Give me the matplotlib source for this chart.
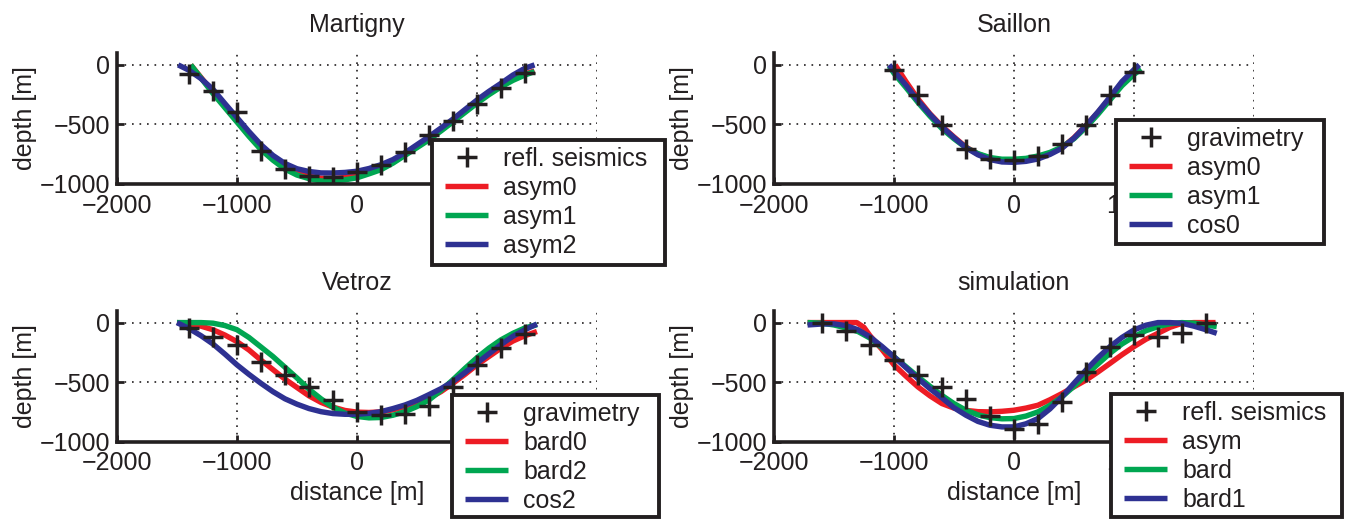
import numpy as np
import matplotlib
matplotlib.use("Agg")
import matplotlib.pyplot as plt
from matplotlib.patches import Rectangle

plt.rcParams['font.family'] = ['Liberation Sans', 'DejaVu Sans']
plt.rcParams['axes.unicode_minus'] = True

RED = '#ED1C24'
GREEN = '#00A651'
BLUE = '#2E3192'
TXT = '#231F20'
W, H = 1346, 519

# ---- Martigny ----
mart_pts_x = [-1400, -1200, -1000, -800, -600, -400, -200, 0, 200, 400, 600, 800, 1000, 1200, 1400]
mart_pts_y = [-80, -220, -392, -720, -870, -935, -945, -898, -842, -733, -590, -469, -330, -196, -72]

mart_asym0_x = [-1385, -1300, -1200, -1100, -1000, -900, -800, -700, -600, -500, -400, -300, -200, -100, 0,
                100, 200, 300, 400, 500, 600, 700, 800, 900, 1000, 1100, 1200, 1300, 1400, 1480]
mart_asym0_y = [0, -105, -230, -350, -468, -585, -695, -785, -855, -905, -935, -952, -955, -945, -928,
                -900, -862, -812, -752, -688, -620, -545, -468, -390, -312, -240, -175, -120, -78, -50]

mart_asym1_x = [-1385, -1300, -1200, -1100, -1000, -900, -800, -700, -600, -500, -400, -300, -200, -100, 0,
                100, 200, 300, 400, 500, 600, 700, 800, 900, 1000, 1100, 1200, 1300, 1400, 1480]
mart_asym1_y = [0, -110, -240, -360, -480, -600, -712, -800, -875, -925, -955, -975, -975, -965, -948,
                -915, -880, -825, -760, -695, -630, -555, -478, -400, -322, -250, -185, -130, -85, -56]

mart_asym2_x = [-1490, -1400, -1300, -1200, -1100, -1000, -900, -800, -700, -600, -500, -400, -300, -200, -100, 0,
                100, 200, 300, 400, 500, 600, 700, 800, 900, 1000, 1100, 1200, 1300, 1400, 1480]
mart_asym2_y = [0, -45, -115, -205, -325, -442, -560, -670, -760, -828, -872, -895, -907, -908, -903, -893,
                -870, -838, -795, -738, -670, -602, -530, -455, -375, -295, -222, -155, -85, -28, 0]

# ---- Saillon ----
sail_pts_x = [-1000, -800, -600, -400, -200, 0, 200, 400, 600, 800, 1000]
sail_pts_y = [-47, -256, -506, -706, -792, -797, -761, -667, -506, -250, -61]

sail_asym0_x = [-990, -900, -800, -700, -600, -500, -400, -300, -200, -100, 0,
                100, 200, 300, 400, 500, 600, 700, 800, 900, 1000, 1045]
sail_asym0_y = [0, -140, -285, -410, -515, -605, -690, -748, -785, -803, -808,
                -800, -780, -745, -695, -612, -510, -400, -280, -150, -55, -20]

sail_asym1_x = [-1040, -1000, -900, -800, -700, -600, -500, -400, -300, -200, -100, 0,
                100, 200, 300, 400, 500, 600, 700, 800, 900, 1000, 1060]
sail_asym1_y = [-10, -70, -190, -315, -430, -535, -620, -695, -745, -778, -792, -792,
                -785, -765, -735, -690, -620, -525, -415, -295, -175, -80, -35]

sail_cos0_x = [-1040, -1000, -900, -800, -700, -600, -500, -400, -300, -200, -100, 0,
               100, 200, 300, 400, 500, 600, 700, 800, 900, 1000, 1045]
sail_cos0_y = [0, -50, -170, -300, -415, -520, -610, -695, -755, -795, -815, -818,
               -810, -790, -752, -700, -615, -510, -395, -270, -140, -40, 0]

# ---- Vetroz ----
vetr_pts_x = [-1400, -1200, -1000, -800, -600, -400, -200, 0, 200, 400, 600, 800, 1000, 1200, 1400]
vetr_pts_y = [-48, -118, -188, -329, -441, -539, -646, -750, -778, -764, -702, -539, -357, -216, -96]

vetr_x = [-1500, -1400, -1300, -1200, -1100, -1000, -900, -800, -700, -600, -500, -400, -300, -200, -100, 0,
          100, 200, 300, 400, 500, 600, 700, 800, 900, 1000, 1100, 1200, 1300, 1400, 1500]
vetr_bard0_y = [0, -10, -30, -60, -105, -160, -230, -315, -395, -475, -545, -615, -670, -710, -738, -752,
                -755, -750, -733, -706, -672, -635, -580, -510, -435, -355, -285, -215, -155, -110, -75]
vetr_bard2_y = [0, 0, 0, -5, -25, -60, -125, -205, -285, -375, -465, -560, -640, -710, -760, -788,
                -800, -797, -778, -748, -705, -650, -570, -480, -385, -295, -215, -145, -90, -45, -18]
vetr_cos2_y = [0, -50, -110, -180, -265, -355, -435, -510, -580, -640, -685, -722, -748, -764, -770, -770,
               -762, -748, -722, -692, -653, -605, -555, -495, -420, -340, -262, -185, -115, -60, -12]

# ---- simulation ----
sim_pts_x = [-1600, -1400, -1200, -1000, -800, -600, -400, -200, 0, 200, 400, 600, 800, 1000, 1200, 1400, 1600]
sim_pts_y = [0, -67, -188, -315, -441, -539, -638, -787, -890, -848, -666, -413, -208, -104, -118, -84, 0]

sim_asym_x = [-1720, -1600, -1500, -1400, -1310, -1250, -1200, -1100, -1000, -900, -800, -700, -600, -500, -400,
              -300, -200, -100, 0, 100, 200, 300, 400, 500, 600, 700, 800, 900, 1000, 1100, 1200, 1300, 1400,
              1500, 1600, 1680]
sim_asym_y = [0, 0, 0, 0, 0, -40, -110, -225, -355, -450, -540, -615, -680, -718, -737,
              -748, -750, -745, -736, -718, -694, -648, -596, -540, -483, -415, -343, -270, -202, -140, -90, -40, -6,
              0, 0, 0]

sim_x = [-1720, -1600, -1500, -1400, -1300, -1200, -1100, -1000, -900, -800, -700, -600, -500, -400, -300, -200,
         -100, 0, 100, 200, 300, 400, 500, 600, 700, 800, 900, 1000, 1100, 1200, 1300, 1400, 1500, 1600, 1690]
sim_bard_y = [0, -5, -20, -45, -75, -130, -210, -287, -370, -455, -535, -612, -680, -736, -775, -798,
              -808, -806, -785, -750, -695, -624, -535, -441, -348, -258, -180, -118, -68, -34, -10, 0, -5, -20, -34]
sim_bard1_y = [-20, -12, -11, -25, -60, -120, -200, -287, -378, -469, -555, -632, -715, -778, -830, -862,
               -876, -876, -850, -806, -725, -624, -510, -399, -295, -202, -125, -62, -22, 0, 0, -6, -30, -60, -90]

# legend boxes in pixels: left, top, right, bottom
panels = [
    dict(title='Martigny', pos=[0.0869, 0.6455, 0.3566, 0.2524], pts=(mart_pts_x, mart_pts_y),
         pts_label='refl. seismics',
         curves=[(mart_asym0_x, mart_asym0_y, RED, 'asym0'),
                 (mart_asym1_x, mart_asym1_y, GREEN, 'asym1'),
                 (mart_asym2_x, mart_asym2_y, BLUE, 'asym2')],
         box=(432, 140, 665, 265), xlabel=False),
    dict(title='Saillon', pos=[0.575, 0.6455, 0.3566, 0.2524], pts=(sail_pts_x, sail_pts_y),
         pts_label='gravimetry',
         curves=[(sail_asym0_x, sail_asym0_y, RED, 'asym0'),
                 (sail_asym1_x, sail_asym1_y, GREEN, 'asym1'),
                 (sail_cos0_x, sail_cos0_y, BLUE, 'cos0')],
         box=(1116, 120, 1324, 244), xlabel=False),
    dict(title='Vetroz', pos=[0.0869, 0.149, 0.3566, 0.2524], pts=(vetr_pts_x, vetr_pts_y),
         pts_label='gravimetry',
         curves=[(vetr_x, vetr_bard0_y, RED, 'bard0'),
                 (vetr_x, vetr_bard2_y, GREEN, 'bard2'),
                 (vetr_x, vetr_cos2_y, BLUE, 'cos2')],
         box=(452, 395, 659, 517), xlabel=True),
    dict(title='simulation', pos=[0.575, 0.149, 0.3566, 0.2524], pts=(sim_pts_x, sim_pts_y),
         pts_label='refl. seismics',
         curves=[(sim_asym_x, sim_asym_y, RED, 'asym'),
                 (sim_x, sim_bard_y, GREEN, 'bard'),
                 (sim_x, sim_bard1_y, BLUE, 'bard1')],
         box=(1111, 394, 1342, 517), xlabel=True),
]

fig = plt.figure(figsize=(13.46, 5.19), dpi=100)

for p in panels:
    ax = fig.add_axes(p['pos'])
    hs = []
    h, = ax.plot(p['pts'][0], p['pts'][1], linestyle='none', marker='+', color=TXT,
                 markersize=15, markeredgewidth=2.5, zorder=5, label=p['pts_label'])
    hs.append(h)
    for cx, cy, col, lab in p['curves']:
        h, = ax.plot(cx, cy, color=col, lw=3.9, solid_capstyle='butt', label=lab)
        hs.append(h)

    ax.set_xlim(-2000, 2000)
    ax.set_ylim(-1000, 100)
    ax.set_xticks([-2000, -1000, 0, 1000, 2000])
    ax.set_yticks([-1000, -500, 0])
    ax.grid(True, color=TXT, linestyle=(0, (1, 3.5)), linewidth=1.2)
    for s in ['top', 'right']:
        ax.spines[s].set_visible(False)
    for s in ['left', 'bottom']:
        ax.spines[s].set_linewidth(2.6)
        ax.spines[s].set_color(TXT)
    ax.tick_params(direction='in', length=5, width=2, labelsize=18, colors=TXT, pad=5)
    ax.tick_params(axis='x', pad=7)
    ax.set_title(p['title'], fontsize=18, color=TXT, pad=15)
    ax.set_ylabel('depth [m]', fontsize=18, color=TXT, labelpad=2)
    if p['xlabel']:
        ax.set_xlabel('distance [m]', fontsize=18, color=TXT, labelpad=4)

    # legend frame drawn as a separate box, legend entries on top of it
    l, t, r, b = p['box']
    fig.add_artist(Rectangle((l / W, 1 - b / H), (r - l) / W, (b - t) / H, transform=fig.transFigure,
                             facecolor='white', edgecolor=TXT, linewidth=2.8, zorder=3))
    leg = fig.legend(handles=hs, loc='upper left', bbox_to_anchor=((l + 13) / W, 1 - (t + 7) / H),
                     fontsize=18, frameon=False, borderpad=0, labelspacing=0.2,
                     handlelength=1.72, handletextpad=0.6, borderaxespad=0)
    leg.set_zorder(4)
    for tx in leg.get_texts():
        tx.set_color(TXT)

fig.savefig('out.png', dpi=100)
